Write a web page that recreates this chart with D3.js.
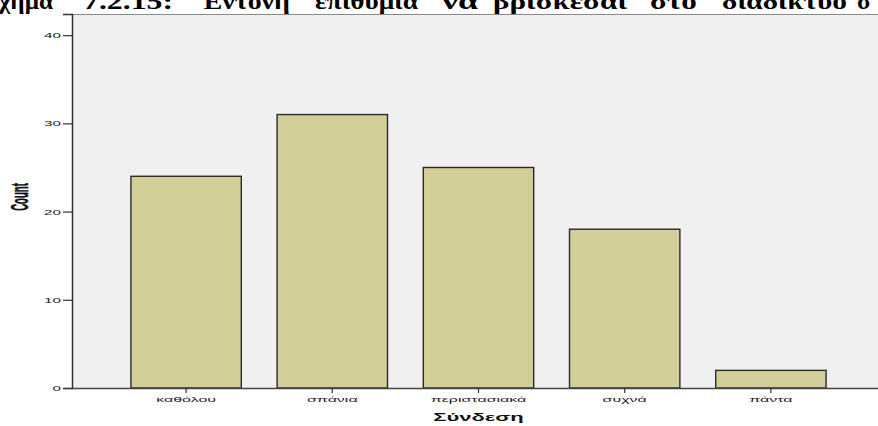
<!DOCTYPE html>
<html>
<head>
<meta charset="utf-8">
<script src="https://cdn.jsdelivr.net/npm/d3@7"></script>
<style>
  html, body { margin: 0; padding: 0; background: #fff; }
  #chart { width: 878px; height: 426px; overflow: hidden; }
  .axis text { font-family: "Liberation Sans", Arial, sans-serif; fill: #222; }
</style>
</head>
<body>
<div id="chart"></div>
<script>
// data
const categories = ['καθόλου', 'σπάνια', 'περιστασιακά', 'συχνά', 'πάντα'];
const counts     = [24, 31, 25, 18, 2];
const yTicks     = [0, 10, 20, 30, 40];
const titleWords = ['Σχήμα', '7.2.15:', 'Έντονη', 'επιθυμία', 'να', 'βρίσκεσαι', 'στο', 'διαδίκτυο', 'σ'];
const xLabel = 'Σύνδεση';
const yLabel = 'Count';

;(function(){
  const W = 878, H = 426;
  const plot = {left: 72, right: 885, top: 14, bottom: 388};

  const svg = d3.select('#chart').append('svg')
    .attr('width', W).attr('height', H);

  // title (justified text, cut at top of the page); word starts + widths
  const titleX = [53, 83, 200, 315, 442, 493, 650, 722, 857];
  const titleW = [null, 90, 90, 103, 36, 134, 47, 125, null];
  svg.append('g').selectAll('text')
    .data(titleWords)
    .enter().append('text')
      .attr('text-anchor', (d,i) => i === 0 ? 'end' : 'start')
      .style('font-family', '"Liberation Serif", "Times New Roman", serif')
      .style('font-weight', 'bold')
      .style('font-size', '24px')
      .text(d => d)
      .each(function(d,i){
        const nat = this.getComputedTextLength();
        const sx = titleW[i] ? titleW[i] / nat : 1.05;
        d3.select(this).attr('transform', `translate(${titleX[i]},9) scale(${sx},1)`);
      });

  // plot background
  svg.append('rect')
    .attr('x', plot.left).attr('y', plot.top)
    .attr('width', plot.right - plot.left).attr('height', plot.bottom - plot.top)
    .attr('fill', '#f0f0f0');
  svg.append('line')
    .attr('x1', plot.left).attr('x2', W)
    .attr('y1', plot.top + 0.5).attr('y2', plot.top + 0.5)
    .attr('stroke', '#8a8a8a').attr('stroke-width', 1.2);

  const x = d3.scaleBand()
    .domain(categories)
    .range([plot.left, plot.right])
    .paddingInner(0.245)
    .paddingOuter(0.403);

  const y = d3.scaleLinear()
    .domain([0, 42.4])
    .range([plot.bottom, plot.top]);

  // bars
  svg.append('g').selectAll('rect')
    .data(categories)
    .enter().append('rect')
      .attr('x', d => x(d))
      .attr('y', (d,i) => y(counts[i]))
      .attr('width', x.bandwidth())
      .attr('height', (d,i) => y(0) - y(counts[i]))
      .attr('fill', '#d3ce98')
      .attr('stroke', '#2a2a2a')
      .attr('stroke-width', 1.4);

  // y axis
  const ySx = 1.9;
  const gy = svg.append('g')
    .attr('class', 'axis')
    .attr('transform', `translate(${plot.left},0)`)
    .call(d3.axisLeft(y).tickValues(yTicks).tickSize(9).tickPadding(2));
  gy.select('.domain').attr('stroke', '#333').attr('stroke-width', 1.5);
  gy.selectAll('.tick line').attr('stroke', '#333').attr('stroke-width', 1.2);
  gy.selectAll('.tick text')
    .style('font-size', '8px')
    .attr('x', -11 / ySx)
    .attr('transform', `scale(${ySx},1)`);

  // x axis
  const gx = svg.append('g')
    .attr('class', 'axis')
    .attr('transform', `translate(0,${plot.bottom})`)
    .call(d3.axisBottom(x).tickSize(5).tickPadding(3).tickSizeOuter(0));
  gx.select('.domain').attr('d', `M${plot.left},0.5H${W}`)
    .attr('stroke', '#444').attr('stroke-width', 1.5);
  gx.selectAll('.tick line').attr('stroke', '#333').attr('stroke-width', 1.2);
  gx.selectAll('.tick text')
    .style('font-size', '8px')
    .attr('transform', 'scale(2,1)');

  // axis titles
  svg.append('text')
    .attr('transform', `translate(${(plot.left + plot.right)/2},421) scale(2.1,1)`)
    .attr('text-anchor', 'middle')
    .style('font-family', '"Liberation Sans", Arial, sans-serif')
    .style('font-weight', 'bold')
    .style('font-size', '10.5px')
    .attr('fill', '#111')
    .text(xLabel);

  svg.append('text')
    .attr('transform', 'translate(28,197) rotate(-90) scale(0.8,1.95)')
    .attr('text-anchor', 'middle')
    .style('font-family', '"Liberation Sans", Arial, sans-serif')
    .style('font-weight', 'bold')
    .style('font-size', '12px')
    .attr('fill', '#111')
    .attr('stroke', '#111')
    .attr('stroke-width', 0.3)
    .text(yLabel);
})();
</script>
</body>
</html>
